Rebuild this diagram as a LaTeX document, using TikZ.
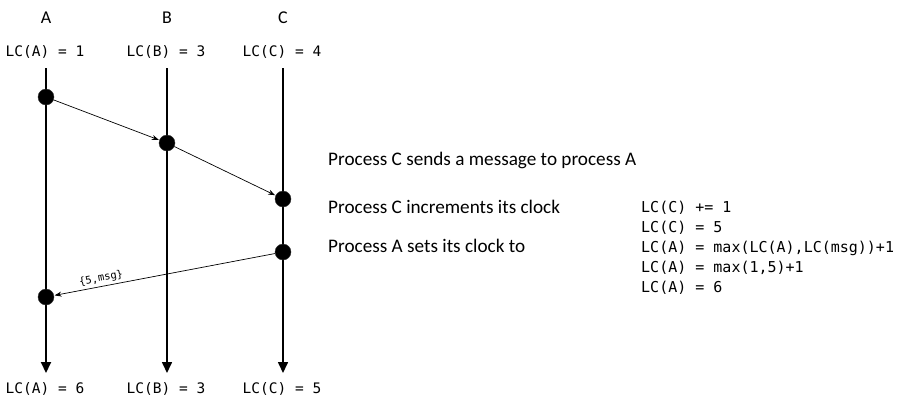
\documentclass[tikz,border=0pt]{standalone}
\usepackage{fontspec}
\setmainfont{Carlito}
\newfontfamily\codefont{DejaVu Sans Mono}
\usetikzlibrary{arrows.meta}
\begin{document}
\begin{tikzpicture}[x=1pt,y=-1pt,
  proc/.style={font=\fontsize{18}{21}\selectfont, inner sep=0pt, anchor=base},
  clock/.style={font=\codefont\fontsize{14.5}{17}\selectfont, inner sep=0pt, anchor=base},
  note/.style={font=\fontsize{19.2}{22}\selectfont, inner sep=0pt, anchor=base west},
  calc/.style={font=\codefont\fontsize{15}{18}\selectfont, inner sep=0pt, anchor=base west},
  timeline/.style={line width=1.6pt, -{Triangle[width=10pt,length=11pt]}},
  event/.style={circle, fill=black, draw=black!80, inner sep=0pt, minimum size=16pt},
  msg/.style={line width=0.7pt, -{Stealth[length=7pt,width=5pt]}, shorten >=0.5pt}
]
\useasboundingbox (0,0) rectangle (907,400);

% process names and initial clocks
\node[proc] (nameA) at (46,23) {A};
\node[proc] (nameB) at (167,23) {B};
\node[proc] (nameC) at (283,23) {C};
\node[clock] (initA) at (45,56) {LC(A) = 1};
\node[clock] (initB) at (166,56) {LC(B) = 3};
\node[clock] (initC) at (282,56) {LC(C) = 4};

% timelines
\coordinate (topA) at (46,68);  \coordinate (botA) at (46,373);
\coordinate (topB) at (167,68); \coordinate (botB) at (167,373);
\coordinate (topC) at (283,68); \coordinate (botC) at (283,373);
\draw[timeline, line width=2pt] (topA) -- (botA);
\draw[timeline] (topB) -- (botB);
\draw[timeline] (topC) -- (botC);

% final clocks
\node[clock] (endA) at (45,393) {LC(A) = 6};
\node[clock] (endB) at (166,393) {LC(B) = 3};
\node[clock] (endC) at (282,393) {LC(C) = 5};

% events
\node[event] (a1) at (46,97) {};
\node[event] (b1) at (167,143) {};
\node[event] (c1) at (283,199) {};
\node[event] (c2) at (283,252) {};
\node[event] (a2) at (46,297) {};

% messages
\draw[msg] (a1) -- (b1);
\draw[msg] (b1) -- (c1);
\draw[msg] (c2) -- (a2) node[pos=0.78, sloped, above=1.5pt, font=\codefont\fontsize{10.5}{12}\selectfont, inner sep=1pt] (tag) {\{5,msg\}};

% explanation
\node[note] (t1) at (328,165) {Process C sends a message to process A};
\node[note] (t2) at (328,213) {Process C increments its clock};
\node[note] (t3) at (328,252) {Process A sets its clock to};
\node[calc] (e1) at (641,212) {LC(C) += 1};
\node[calc] (e2) at (641,232) {LC(C) = 5};
\node[calc] (e3) at (641,252) {LC(A) = max(LC(A),LC(msg))+1};
\node[calc] (e4) at (641,272) {LC(A) = max(1,5)+1};
\node[calc] (e5) at (641,292) {LC(A) = 6};
\end{tikzpicture}
\end{document}
